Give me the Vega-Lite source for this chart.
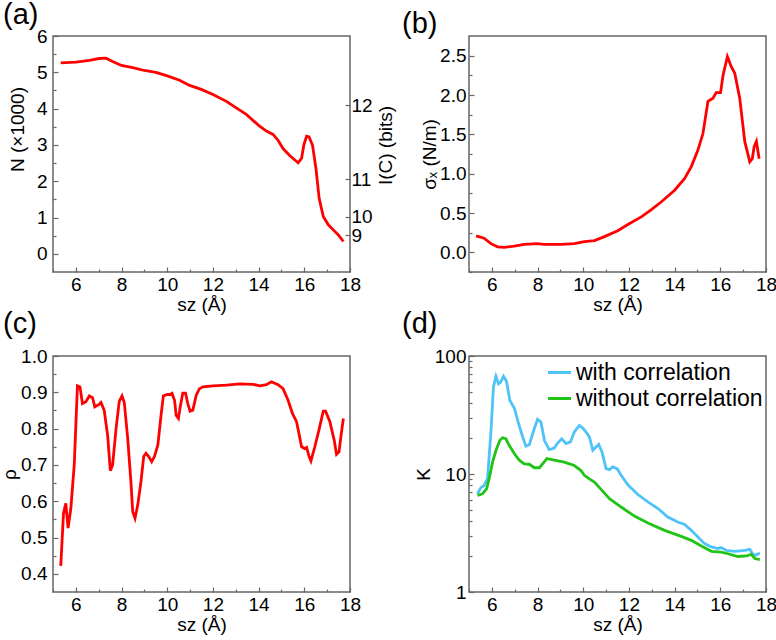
{
  "$schema": "https://vega.github.io/schema/vega-lite/v6.json",
  "padding": {"left": -1, "top": 0, "right": 0, "bottom": 0},
  "background": "white",
  "datasets": {
    "a": [
      {"s": 5.34, "v": 5.26}, {"s": 6.0, "v": 5.28}, {"s": 6.59, "v": 5.33}, {"s": 7.02, "v": 5.38},
      {"s": 7.32, "v": 5.39}, {"s": 7.61, "v": 5.3}, {"s": 8.0, "v": 5.19}, {"s": 8.49, "v": 5.13},
      {"s": 9.0, "v": 5.05}, {"s": 9.51, "v": 5.0}, {"s": 10.0, "v": 4.9}, {"s": 10.54, "v": 4.78},
      {"s": 10.98, "v": 4.64}, {"s": 11.49, "v": 4.53}, {"s": 12.0, "v": 4.39}, {"s": 12.59, "v": 4.2},
      {"s": 13.02, "v": 4.02}, {"s": 13.46, "v": 3.84}, {"s": 14.0, "v": 3.54}, {"s": 14.34, "v": 3.38},
      {"s": 14.63, "v": 3.29}, {"s": 14.85, "v": 3.13}, {"s": 15.07, "v": 2.9}, {"s": 15.37, "v": 2.7},
      {"s": 15.73, "v": 2.51}, {"s": 15.88, "v": 2.63}, {"s": 15.98, "v": 3.0}, {"s": 16.1, "v": 3.24},
      {"s": 16.21, "v": 3.22}, {"s": 16.36, "v": 2.99}, {"s": 16.51, "v": 2.35}, {"s": 16.65, "v": 1.53},
      {"s": 16.83, "v": 1.03}, {"s": 17.05, "v": 0.8}, {"s": 17.27, "v": 0.66}, {"s": 17.49, "v": 0.52},
      {"s": 17.71, "v": 0.34}
    ],
    "b": [
      {"s": 5.31, "v": 0.21}, {"s": 5.66, "v": 0.18}, {"s": 5.96, "v": 0.11}, {"s": 6.25, "v": 0.07},
      {"s": 6.54, "v": 0.064}, {"s": 6.98, "v": 0.08}, {"s": 7.42, "v": 0.1}, {"s": 7.96, "v": 0.11},
      {"s": 8.3, "v": 0.1}, {"s": 9.03, "v": 0.1}, {"s": 9.61, "v": 0.11}, {"s": 10.05, "v": 0.135},
      {"s": 10.49, "v": 0.15}, {"s": 10.93, "v": 0.2}, {"s": 11.51, "v": 0.275}, {"s": 11.99, "v": 0.36},
      {"s": 12.54, "v": 0.45}, {"s": 12.97, "v": 0.54}, {"s": 13.41, "v": 0.64}, {"s": 14.0, "v": 0.79},
      {"s": 14.44, "v": 0.94}, {"s": 14.73, "v": 1.09}, {"s": 15.02, "v": 1.3}, {"s": 15.24, "v": 1.51},
      {"s": 15.46, "v": 1.92}, {"s": 15.68, "v": 1.96}, {"s": 15.82, "v": 2.03}, {"s": 16.01, "v": 2.03},
      {"s": 16.12, "v": 2.25}, {"s": 16.31, "v": 2.49}, {"s": 16.48, "v": 2.36}, {"s": 16.63, "v": 2.28},
      {"s": 16.85, "v": 1.96}, {"s": 17.07, "v": 1.41}, {"s": 17.29, "v": 1.15}, {"s": 17.4, "v": 1.19},
      {"s": 17.48, "v": 1.34}, {"s": 17.58, "v": 1.41}, {"s": 17.7, "v": 1.19}
    ],
    "c": [
      {"s": 5.34, "v": 0.422}, {"s": 5.46, "v": 0.567}, {"s": 5.56, "v": 0.594}, {"s": 5.66, "v": 0.526},
      {"s": 5.78, "v": 0.58}, {"s": 5.93, "v": 0.7}, {"s": 6.07, "v": 0.918}, {"s": 6.18, "v": 0.915},
      {"s": 6.29, "v": 0.869}, {"s": 6.44, "v": 0.874}, {"s": 6.59, "v": 0.89}, {"s": 6.73, "v": 0.885},
      {"s": 6.83, "v": 0.86}, {"s": 7.0, "v": 0.866}, {"s": 7.1, "v": 0.872}, {"s": 7.24, "v": 0.851},
      {"s": 7.39, "v": 0.782}, {"s": 7.51, "v": 0.684}, {"s": 7.61, "v": 0.7}, {"s": 7.76, "v": 0.8},
      {"s": 7.9, "v": 0.875}, {"s": 8.02, "v": 0.89}, {"s": 8.12, "v": 0.872}, {"s": 8.27, "v": 0.773},
      {"s": 8.41, "v": 0.654}, {"s": 8.49, "v": 0.571}, {"s": 8.59, "v": 0.553}, {"s": 8.71, "v": 0.59},
      {"s": 8.85, "v": 0.654}, {"s": 8.97, "v": 0.723}, {"s": 9.07, "v": 0.732}, {"s": 9.19, "v": 0.723},
      {"s": 9.32, "v": 0.709}, {"s": 9.44, "v": 0.723}, {"s": 9.59, "v": 0.755}, {"s": 9.73, "v": 0.837},
      {"s": 9.83, "v": 0.89}, {"s": 10.0, "v": 0.894}, {"s": 10.13, "v": 0.894}, {"s": 10.21, "v": 0.897},
      {"s": 10.32, "v": 0.878}, {"s": 10.39, "v": 0.837}, {"s": 10.49, "v": 0.828}, {"s": 10.58, "v": 0.864},
      {"s": 10.68, "v": 0.898}, {"s": 10.8, "v": 0.898}, {"s": 10.9, "v": 0.869}, {"s": 11.0, "v": 0.848},
      {"s": 11.12, "v": 0.851}, {"s": 11.27, "v": 0.892}, {"s": 11.41, "v": 0.91}, {"s": 11.56, "v": 0.915},
      {"s": 12.0, "v": 0.918}, {"s": 12.59, "v": 0.92}, {"s": 13.17, "v": 0.923}, {"s": 13.76, "v": 0.922},
      {"s": 14.05, "v": 0.918}, {"s": 14.34, "v": 0.921}, {"s": 14.56, "v": 0.929}, {"s": 14.85, "v": 0.921},
      {"s": 15.07, "v": 0.91}, {"s": 15.29, "v": 0.878}, {"s": 15.48, "v": 0.842}, {"s": 15.66, "v": 0.819},
      {"s": 15.78, "v": 0.782}, {"s": 15.88, "v": 0.75}, {"s": 16.02, "v": 0.745}, {"s": 16.1, "v": 0.748},
      {"s": 16.21, "v": 0.723}, {"s": 16.29, "v": 0.711}, {"s": 16.46, "v": 0.75}, {"s": 16.64, "v": 0.796},
      {"s": 16.83, "v": 0.848}, {"s": 16.93, "v": 0.848}, {"s": 17.12, "v": 0.819}, {"s": 17.27, "v": 0.778},
      {"s": 17.31, "v": 0.768}, {"s": 17.41, "v": 0.729}, {"s": 17.52, "v": 0.736}, {"s": 17.61, "v": 0.782},
      {"s": 17.71, "v": 0.828}
    ],
    "d": [
      {"series": "with correlation", "s": 5.37, "k": 6.8}, {"series": "with correlation", "s": 5.52, "k": 7.66},
      {"series": "with correlation", "s": 5.66, "k": 8.0}, {"series": "with correlation", "s": 5.81, "k": 9.1},
      {"series": "with correlation", "s": 5.96, "k": 22.7}, {"series": "with correlation", "s": 6.07, "k": 54.6},
      {"series": "with correlation", "s": 6.18, "k": 67.3}, {"series": "with correlation", "s": 6.29, "k": 58.3},
      {"series": "with correlation", "s": 6.39, "k": 60.2}, {"series": "with correlation", "s": 6.51, "k": 67.3},
      {"series": "with correlation", "s": 6.64, "k": 61.0}, {"series": "with correlation", "s": 6.79, "k": 42.0},
      {"series": "with correlation", "s": 6.98, "k": 36.3}, {"series": "with correlation", "s": 7.15, "k": 27.6},
      {"series": "with correlation", "s": 7.35, "k": 20.6}, {"series": "with correlation", "s": 7.49, "k": 17.2},
      {"series": "with correlation", "s": 7.64, "k": 17.7}, {"series": "with correlation", "s": 7.81, "k": 22.7},
      {"series": "with correlation", "s": 8.0, "k": 29.1}, {"series": "with correlation", "s": 8.15, "k": 27.6},
      {"series": "with correlation", "s": 8.3, "k": 19.3}, {"series": "with correlation", "s": 8.51, "k": 16.1},
      {"series": "with correlation", "s": 8.73, "k": 16.6}, {"series": "with correlation", "s": 8.88, "k": 18.3},
      {"series": "with correlation", "s": 9.06, "k": 19.9}, {"series": "with correlation", "s": 9.25, "k": 18.1},
      {"series": "with correlation", "s": 9.44, "k": 18.7}, {"series": "with correlation", "s": 9.61, "k": 22.7},
      {"series": "with correlation", "s": 9.83, "k": 25.8}, {"series": "with correlation", "s": 9.98, "k": 24.5},
      {"series": "with correlation", "s": 10.12, "k": 22.7}, {"series": "with correlation", "s": 10.27, "k": 20.6},
      {"series": "with correlation", "s": 10.42, "k": 15.9}, {"series": "with correlation", "s": 10.56, "k": 16.9},
      {"series": "with correlation", "s": 10.68, "k": 17.8}, {"series": "with correlation", "s": 10.82, "k": 15.4},
      {"series": "with correlation", "s": 11.0, "k": 11.1}, {"series": "with correlation", "s": 11.15, "k": 10.9},
      {"series": "with correlation", "s": 11.29, "k": 11.5}, {"series": "with correlation", "s": 11.48, "k": 11.1},
      {"series": "with correlation", "s": 11.66, "k": 9.75}, {"series": "with correlation", "s": 11.95, "k": 8.1},
      {"series": "with correlation", "s": 12.39, "k": 6.7}, {"series": "with correlation", "s": 12.83, "k": 5.8},
      {"series": "with correlation", "s": 13.27, "k": 5.1}, {"series": "with correlation", "s": 13.7, "k": 4.32},
      {"series": "with correlation", "s": 14.14, "k": 3.92}, {"series": "with correlation", "s": 14.44, "k": 3.74},
      {"series": "with correlation", "s": 14.73, "k": 3.33}, {"series": "with correlation", "s": 15.02, "k": 2.92},
      {"series": "with correlation", "s": 15.31, "k": 2.57}, {"series": "with correlation", "s": 15.61, "k": 2.41},
      {"series": "with correlation", "s": 15.9, "k": 2.33}, {"series": "with correlation", "s": 16.04, "k": 2.38},
      {"series": "with correlation", "s": 16.26, "k": 2.25}, {"series": "with correlation", "s": 16.63, "k": 2.21},
      {"series": "with correlation", "s": 17.07, "k": 2.25}, {"series": "with correlation", "s": 17.29, "k": 2.3},
      {"series": "with correlation", "s": 17.43, "k": 2.08}, {"series": "with correlation", "s": 17.55, "k": 2.05},
      {"series": "with correlation", "s": 17.73, "k": 2.14},
      {"series": "without correlation", "s": 5.37, "k": 6.6}, {"series": "without correlation", "s": 5.59, "k": 6.8},
      {"series": "without correlation", "s": 5.77, "k": 7.5}, {"series": "without correlation", "s": 5.88, "k": 9.1},
      {"series": "without correlation", "s": 6.03, "k": 12.6}, {"series": "without correlation", "s": 6.18, "k": 15.8},
      {"series": "without correlation", "s": 6.35, "k": 19.3}, {"series": "without correlation", "s": 6.47, "k": 20.3},
      {"series": "without correlation", "s": 6.61, "k": 19.9}, {"series": "without correlation", "s": 6.76, "k": 17.5},
      {"series": "without correlation", "s": 6.98, "k": 14.9}, {"series": "without correlation", "s": 7.2, "k": 13.1},
      {"series": "without correlation", "s": 7.42, "k": 12.2}, {"series": "without correlation", "s": 7.64, "k": 12.1},
      {"series": "without correlation", "s": 7.86, "k": 11.3}, {"series": "without correlation", "s": 8.08, "k": 11.3},
      {"series": "without correlation", "s": 8.22, "k": 12.2}, {"series": "without correlation", "s": 8.41, "k": 13.5},
      {"series": "without correlation", "s": 8.73, "k": 13.1}, {"series": "without correlation", "s": 9.17, "k": 12.6},
      {"series": "without correlation", "s": 9.61, "k": 11.8}, {"series": "without correlation", "s": 9.9, "k": 10.7},
      {"series": "without correlation", "s": 10.05, "k": 9.75}, {"series": "without correlation", "s": 10.27, "k": 9.1},
      {"series": "without correlation", "s": 10.49, "k": 8.55}, {"series": "without correlation", "s": 10.78, "k": 7.4},
      {"series": "without correlation", "s": 11.15, "k": 6.18}, {"series": "without correlation", "s": 11.66, "k": 5.25},
      {"series": "without correlation", "s": 12.24, "k": 4.4}, {"series": "without correlation", "s": 12.83, "k": 3.85},
      {"series": "without correlation", "s": 13.56, "k": 3.33}, {"series": "without correlation", "s": 14.29, "k": 2.96},
      {"series": "without correlation", "s": 14.73, "k": 2.74}, {"series": "without correlation", "s": 15.17, "k": 2.45},
      {"series": "without correlation", "s": 15.61, "k": 2.21}, {"series": "without correlation", "s": 16.04, "k": 2.18},
      {"series": "without correlation", "s": 16.34, "k": 2.11}, {"series": "without correlation", "s": 16.77, "k": 2.0},
      {"series": "without correlation", "s": 17.14, "k": 2.02}, {"series": "without correlation", "s": 17.36, "k": 2.08},
      {"series": "without correlation", "s": 17.51, "k": 1.92}, {"series": "without correlation", "s": 17.73, "k": 1.88}
    ]
  },
  "columns": 2,
  "bounds": "flush",
  "spacing": {"row": 84, "column": 119},
  "resolve": {"legend": {"color": "independent"}},
  "concat": [
    {
      "title": {"text": "(a)", "dx": -50, "offset": -3},
      "width": 297,
      "height": 236,
      "data": {"name": "a"},
      "layer": [
        {
          "mark": {"type": "line", "color": "#ff0000", "strokeWidth": 2.8},
          "encoding": {
            "x": {"field": "s", "type": "quantitative", "scale": {"domain": [5, 18], "nice": false, "zero": false},
                  "axis": {"values": [6, 8, 10, 12, 14, 16, 18], "title": "sz (Å)"}},
            "y": {"field": "v", "type": "quantitative", "scale": {"domain": [-0.5, 6], "nice": false, "zero": false},
                  "axis": {"values": [0, 1, 2, 3, 4, 5, 6], "title": "N (×1000)", "titleY": 93}}
          }
        },
        {
          "mark": {"type": "line", "opacity": 0},
          "encoding": {
            "x": {"field": "s", "type": "quantitative",
                  "axis": {"orient": "bottom", "values": [5, 7, 9, 11, 13, 15, 17], "labels": false, "tickSize": -3, "title": null}},
            "y": {"field": "v", "type": "quantitative",
                  "axis": {"orient": "right", "values": [0.512, 1.024, 2.048, 4.096], "labelOverlap": false,
                           "labelExpr": "format(log(datum.value * 1000) / log(2), '.0f')", "labelPadding": 6,
                           "title": "I(C) (bits)", "titleAngle": 270, "titleBaseline": "top", "titlePadding": 4, "titleY": 109}}
          }
        },
        {
          "mark": {"type": "line", "opacity": 0},
          "encoding": {
            "x": {"field": "s", "type": "quantitative", "axis": null},
            "y": {"field": "v", "type": "quantitative",
                  "axis": {"orient": "left", "values": [0.5, 1.5, 2.5, 3.5, 4.5, 5.5], "labels": false, "tickSize": -3, "title": null}}
          }
        }
      ],
      "resolve": {"axis": {"x": "independent", "y": "independent"}}
    },
    {
      "title": {"text": "(b)", "dx": -67, "offset": -3},
      "width": 297,
      "height": 236,
      "data": {"name": "b"},
      "layer": [
        {
          "mark": {"type": "line", "color": "#ff0000", "strokeWidth": 2.8},
          "encoding": {
            "x": {"field": "s", "type": "quantitative", "scale": {"domain": [5, 18], "nice": false, "zero": false},
                  "axis": {"values": [6, 8, 10, 12, 14, 16, 18], "title": "sz (Å)"}},
            "y": {"field": "v", "type": "quantitative", "scale": {"domain": [-0.25, 2.75], "nice": false, "zero": false},
                  "axis": {"values": [0, 0.5, 1, 1.5, 2, 2.5], "format": ".1f", "title": "σₓ (N/m)", "labelPadding": 8, "titlePadding": 0}}
          }
        },
        {
          "mark": {"type": "line", "opacity": 0},
          "encoding": {
            "x": {"field": "s", "type": "quantitative",
                  "axis": {"orient": "bottom", "values": [5, 7, 9, 11, 13, 15, 17], "labels": false, "tickSize": -3, "title": null}},
            "y": {"field": "v", "type": "quantitative",
                  "axis": {"orient": "left", "values": [-0.25, 0.25, 0.75, 1.25, 1.75, 2.25], "labels": false, "tickSize": -3, "title": null}}
          }
        }
      ],
      "resolve": {"axis": {"x": "independent", "y": "independent"}}
    },
    {
      "title": {"text": "(c)", "dx": -50, "offset": 8},
      "width": 297,
      "height": 236,
      "data": {"name": "c"},
      "layer": [
        {
          "mark": {"type": "line", "color": "#ff0000", "strokeWidth": 2.8},
          "encoding": {
            "x": {"field": "s", "type": "quantitative", "scale": {"domain": [5, 18], "nice": false, "zero": false},
                  "axis": {"values": [6, 8, 10, 12, 14, 16, 18], "title": "sz (Å)"}},
            "y": {"field": "v", "type": "quantitative", "scale": {"domain": [0.35, 1.0], "nice": false, "zero": false},
                  "axis": {"values": [0.4, 0.5, 0.6, 0.7, 0.8, 0.9, 1.0], "format": ".1f", "title": "ρ", "titlePadding": 1}}
          }
        },
        {
          "mark": {"type": "line", "opacity": 0},
          "encoding": {
            "x": {"field": "s", "type": "quantitative",
                  "axis": {"orient": "bottom", "values": [5, 7, 9, 11, 13, 15, 17], "labels": false, "tickSize": -3, "title": null}},
            "y": {"field": "v", "type": "quantitative",
                  "axis": {"orient": "left", "values": [0.45, 0.55, 0.65, 0.75, 0.85, 0.95], "labels": false, "tickSize": -3, "title": null}}
          }
        }
      ],
      "resolve": {"axis": {"x": "independent", "y": "independent"}}
    },
    {
      "title": {"text": "(d)", "dx": -67, "offset": 8},
      "width": 297,
      "height": 236,
      "data": {"name": "d"},
      "layer": [
        {
          "mark": {"type": "line", "strokeWidth": 2.8},
          "encoding": {
            "x": {"field": "s", "type": "quantitative", "scale": {"domain": [5, 18], "nice": false, "zero": false},
                  "axis": {"values": [6, 8, 10, 12, 14, 16, 18], "title": "sz (Å)"}},
            "y": {"field": "k", "type": "quantitative", "scale": {"type": "log", "domain": [1, 100], "nice": false},
                  "axis": {"values": [1, 10, 100], "format": "d", "title": "K", "labelPadding": 8, "titlePadding": 1}},
            "color": {"field": "series", "type": "nominal",
                      "scale": {"domain": ["with correlation", "without correlation"], "range": ["#4dc3f8", "#20c416"]},
                      "legend": {"orient": "top-right", "title": null, "offset": 3, "padding": 0, "symbolType": "stroke",
                                 "symbolStrokeWidth": 3, "symbolSize": 530, "labelOffset": 3, "rowPadding": -4,
                                 "labelLimit": 400, "labelFont": "Liberation Sans", "labelFontSize": 23, "labelColor": "#000"}}
          }
        },
        {
          "mark": {"type": "line", "opacity": 0},
          "encoding": {
            "x": {"field": "s", "type": "quantitative",
                  "axis": {"orient": "bottom", "values": [5, 7, 9, 11, 13, 15, 17], "labels": false, "tickSize": -3, "title": null}},
            "y": {"field": "k", "type": "quantitative",
                  "axis": {"orient": "left", "values": [2, 3, 4, 5, 6, 7, 8, 9, 20, 30, 40, 50, 60, 70, 80, 90], "labels": false, "tickSize": -3, "title": null}}
          }
        }
      ],
      "resolve": {"axis": {"x": "independent", "y": "independent"}}
    }
  ],
  "config": {
    "font": "Liberation Sans",
    "view": {"stroke": "#666666", "strokeWidth": 1.5},
    "title": {"anchor": "start", "frame": "group", "fontSize": 29, "fontWeight": "normal", "font": "Liberation Sans", "baseline": "bottom", "color": "#000"},
    "axis": {
      "domain": false,
      "grid": false,
      "tickColor": "#666666",
      "tickSize": -5,
      "tickWidth": 1.2,
      "labelFont": "Liberation Sans",
      "labelFontSize": 19,
      "labelColor": "#000",
      "labelFlush": false,
      "titleFont": "Liberation Sans",
      "titleFontSize": 19,
      "titleFontWeight": "normal",
      "titleColor": "#000"
    },
    "axisX": {"labelPadding": 8, "titlePadding": 1},
    "axisY": {"labelPadding": 11, "titlePadding": 9}
  }
}
